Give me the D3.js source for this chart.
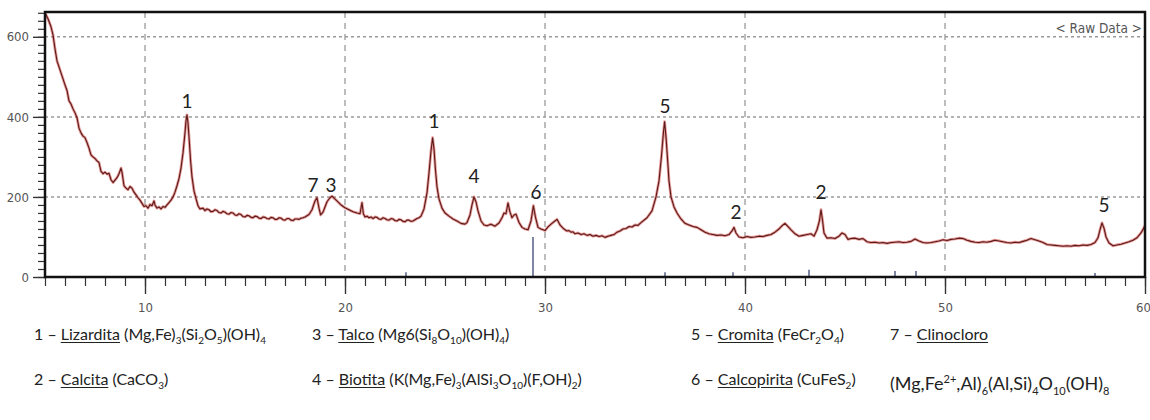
<!DOCTYPE html>
<html>
<head>
<meta charset="utf-8">
<script src="https://cdn.jsdelivr.net/npm/d3@7"></script>
<style>
  body { margin: 0; background: #fff; }
  #wrap { position: relative; width: 1150px; height: 420px; overflow: hidden; }
  .leg { position: absolute; font-family: Lato, 'Open Sans', sans-serif; font-size: 16px; color: #222; white-space: nowrap; line-height: 20px; }
  .leg sub, .leg sup { font-size: 10px; }
  .leg u { text-underline-offset: 2px; }
  .leg.big { font-size: 18px; }
  .leg.big sub, .leg.big sup { font-size: 11px; }
</style>
</head>
<body>
<div id="wrap"><svg id="svg" width="1150" height="420"></svg></div>
<script>
// scan: [2θ, counts]
const scan = [
  [5.0,660],[5.15,645],[5.3,625],[5.4,605],[5.5,570],[5.6,540],[5.7,525],[5.8,510],[5.9,495],[6.0,480],
  [6.1,466],[6.2,440],[6.3,432],[6.4,420],[6.5,410],[6.6,398],[6.7,372],[6.8,360],[6.9,352],[7.0,348],
  [7.1,336],[7.2,322],[7.3,305],[7.4,300],[7.5,296],[7.6,290],[7.7,286],[7.8,264],[7.9,258],[8.0,262],
  [8.1,257],[8.2,259],[8.3,243],[8.4,236],[8.5,242],[8.6,248],[8.7,258],[8.8,272],[8.85,262],[8.95,228],
  [9.05,222],[9.15,218],[9.25,226],[9.35,222],[9.45,212],[9.55,205],[9.65,198],[9.75,192],[9.85,184],[9.95,176],
  [10.05,178],[10.15,172],[10.25,181],[10.35,178],[10.45,190],[10.5,180],[10.6,172],[10.7,175],[10.8,170],[10.9,176],
  [11.0,174],[11.1,180],[11.2,186],[11.3,192],[11.4,200],[11.5,212],[11.6,228],[11.7,246],[11.8,272],[11.9,310],
  [12.0,360],[12.05,390],[12.1,405],[12.15,385],[12.2,350],[12.28,290],[12.35,250],[12.45,215],[12.55,196],[12.65,178],
  [12.75,170],[12.9,172],[13.0,166],[13.1,170],[13.2,168],[13.3,163],[13.4,164],[13.5,168],[13.6,166],[13.7,161],
  [13.8,160],[13.9,164],[14.0,162],[14.1,158],[14.2,157],[14.3,161],[14.4,160],[14.5,155],[14.6,154],[14.7,158],
  [14.8,156],[14.9,151],[15.0,150],[15.1,154],[15.2,153],[15.3,149],[15.4,148],[15.5,152],[15.6,151],[15.7,147],
  [15.8,146],[15.9,150],[16.0,149],[16.1,146],[16.2,145],[16.3,149],[16.4,148],[16.5,144],[16.6,144],[16.7,148],
  [16.8,147],[16.9,143],[17.0,142],[17.1,146],[17.2,146],[17.3,142],[17.4,141],[17.5,145],[17.6,145],[17.7,144],
  [17.8,147],[17.9,148],[18.0,150],[18.1,153],[18.2,156],[18.35,168],
  [18.5,190],[18.6,198],[18.7,172],[18.78,155],[18.9,162],[19.0,175],[19.1,188],[19.25,198],[19.35,202],[19.45,197],
  [19.6,190],[19.8,180],[20.0,173],[20.2,168],[20.4,163],[20.6,160],[20.75,158],[20.85,186],[20.92,158],[21.0,150],
  [21.1,152],[21.2,148],[21.3,150],[21.4,146],[21.5,150],[21.6,149],[21.7,145],[21.8,144],[21.9,148],[22.0,146],
  [22.1,143],[22.2,142],[22.3,146],[22.4,145],[22.5,141],[22.6,140],[22.7,144],[22.8,143],[22.9,139],[23.0,138],
  [23.1,142],[23.2,142],[23.3,139],[23.4,140],[23.5,143],[23.6,146],[23.7,148],[23.8,152],[23.95,170],[24.1,210],
  [24.2,260],[24.3,315],[24.38,348],[24.45,320],
  [24.52,270],[24.6,225],[24.7,195],[24.85,172],[25.0,160],[25.2,152],[25.4,145],[25.6,140],[25.8,134],[26.0,132],
  [26.1,136],[26.25,155],[26.35,180],[26.45,200],[26.55,188],[26.65,165],[26.8,140],[26.95,130],[27.1,128],[27.3,132],
  [27.5,127],[27.7,135],[27.85,148],[27.95,160],[28.05,158],[28.15,185],[28.25,162],[28.35,148],[28.45,155],[28.55,157],
  [28.7,136],[28.85,124],[29.0,120],[29.15,118],[29.3,140],[29.42,178],[29.52,150],[29.65,124],[29.8,120],[30.0,116],
  [30.15,125],[30.3,132],[30.45,138],[30.6,144],[30.75,130],[30.9,122],[31.0,118],[31.1,115],[31.2,116],[31.3,112],
  [31.4,113],[31.5,108],[31.65,110],[31.8,106],[31.95,108],[32.1,104],[32.25,106],[32.4,102],[32.55,104],[32.7,101],
  [32.85,103],[33.0,99],[33.15,102],[33.3,104],[33.45,106],[33.6,112],[33.75,115],[33.9,120],[34.05,121],[34.2,126],
  [34.35,125],[34.5,130],[34.65,129],[34.8,136],
  [35.1,148],[35.35,165],[35.55,200],[35.7,240],[35.82,300],[35.92,360],[35.98,388],[36.05,350],[36.12,300],[36.2,240],
  [36.3,200],[36.45,175],[36.6,160],[36.8,145],[37.0,134],[37.2,130],[37.4,126],[37.6,124],[37.8,118],[38.0,112],
  [38.2,108],[38.4,106],[38.6,104],[38.8,105],[39.0,103],[39.2,106],[39.35,115],[39.45,124],[39.55,110],[39.7,100],
  [39.9,98],[40.1,101],[40.3,99],[40.5,100],[40.7,102],[40.9,101],[41.1,104],[41.3,106],[41.5,112],[41.7,120],
  [41.85,128],[42.0,134],[42.15,126],[42.3,118],[42.5,108],[42.7,102],[42.9,104],[43.1,106],[43.3,108],[43.45,102],
  [43.6,118],[43.72,140],[43.8,168],[43.88,140],[43.95,110],[44.1,97],[44.3,98],[44.5,96],[44.7,102],[44.85,110],
  [45.0,106],[45.15,94],[45.3,96],[45.5,97],[45.7,94],[45.9,96],[46.1,88],[46.3,86],[46.5,87],[46.7,85],
  [46.9,86],[47.1,84],[47.3,86],[47.5,87],[47.7,88],[47.9,86],[48.1,87],[48.3,89],[48.5,95],[48.7,90],
  [48.9,86],[49.1,85],[49.3,86],[49.5,88],[49.7,90],[49.9,93],[50.1,91],[50.3,94],[50.5,95],[50.7,97],
  [50.9,96],[51.1,92],[51.3,89],[51.5,87],[51.7,86],[51.9,88],[52.1,87],[52.3,89],[52.5,92],[52.7,90],
  [52.9,88],[53.1,86],[53.3,85],[53.5,87],[53.7,86],[53.9,89],[54.1,92],[54.3,96],[54.5,93],[54.7,90],
  [54.9,86],[55.1,81],[55.3,80],[55.5,79],[55.7,78],[55.9,77],[56.1,78],[56.3,77],[56.5,79],[56.7,78],
  [56.9,80],[57.1,79],[57.3,81],[57.5,86],[57.65,98],[57.75,118],[57.85,135],[57.95,122],[58.05,100],[58.2,85],
  [58.4,78],[58.6,80],[58.8,82],[59.0,85],[59.2,88],[59.4,92],[59.6,98],[59.8,110],[60.0,128]
];

// reference sticks [2θ, height]
const sticks = [[23.05,12],[29.4,100],[36.0,12],[39.4,12],[43.2,18],[47.5,15],[48.55,15],[57.5,10]];

// peak labels [2θ, counts at label baseline, text]
const peakLabels = [
  [12.1,422,'1'],[18.4,212,'7'],[19.3,212,'3'],[24.45,372,'1'],[26.45,235,'4'],
  [29.55,195,'6'],[36.0,410,'5'],[39.55,145,'2'],[43.8,195,'2'],[57.95,162,'5']
];

const yTicks = [0, 200, 400, 600];
const xTicks = [10, 20, 30, 40, 50, 60];

const legend = [
  {col: 0, row: 0, num: '1', name: 'Lizardita', formula: '(Mg,Fe)<sub>3</sub>(Si<sub>2</sub>O<sub>5</sub>)(OH)<sub>4</sub>'},
  {col: 0, row: 1, num: '2', name: 'Calcita', formula: '(CaCO<sub>3</sub>)'},
  {col: 1, row: 0, num: '3', name: 'Talco', formula: '(Mg6(Si<sub>8</sub>O<sub>10</sub>)(OH)<sub>4</sub>)'},
  {col: 1, row: 1, num: '4', name: 'Biotita', formula: '(K(Mg,Fe)<sub>3</sub>(AlSi<sub>3</sub>O<sub>10</sub>)(F,OH)<sub>2</sub>)'},
  {col: 2, row: 0, num: '5', name: 'Cromita', formula: '(FeCr<sub>2</sub>O<sub>4</sub>)'},
  {col: 2, row: 1, num: '6', name: 'Calcopirita', formula: '(CuFeS<sub>2</sub>)'},
  {col: 3, row: 0, num: '7', name: 'Clinocloro', formula: ''},
  {col: 3, row: 1, num: '', name: '', formula: '(Mg,Fe<sup>2+</sup>,Al)<sub>6</sub>(Al,Si)<sub>4</sub>O<sub>10</sub>(OH)<sub>8</sub>'}
];

const svg = d3.select('#svg');
const pl = 45, pr = 1145, pt = 12, pb = 277;

const x = d3.scaleLinear().domain([5, 60]).range([pl, pr]);
const y = d3.scaleLinear().domain([0, 662]).range([pb, pt]);

// grid
svg.append('g').selectAll('line').data(yTicks.filter(d => d > 0)).join('line')
  .attr('x1', pl).attr('x2', pr).attr('y1', d => y(d)).attr('y2', d => y(d))
  .attr('stroke', '#9a9a9a').attr('stroke-width', 1.5).attr('stroke-dasharray', '3,3');
svg.append('g').selectAll('line').data(xTicks.filter(d => d < 60)).join('line')
  .attr('x1', d => x(d)).attr('x2', d => x(d)).attr('y1', pt).attr('y2', pb)
  .attr('stroke', '#9a9a9a').attr('stroke-width', 1.3).attr('stroke-dasharray', '6,5');

// y axis ticks (minor every 20)
svg.append('g').attr('transform', `translate(${pl},0)`)
  .call(d3.axisLeft(y).tickValues(d3.range(0, 662, 20)).tickSize(7).tickFormat(''))
  .call(g => g.select('.domain').remove())
  .call(g => g.selectAll('line').attr('stroke', '#333').attr('stroke-width', 1.2));
svg.append('g').attr('transform', `translate(${pl},0)`)
  .call(d3.axisLeft(y).tickValues(yTicks).tickSize(12).tickPadding(4))
  .call(g => g.select('.domain').remove())
  .call(g => g.selectAll('line').attr('stroke', '#333').attr('stroke-width', 1.4))
  .call(g => g.selectAll('text').attr('font-family', "'Liberation Sans Narrow', 'DejaVu Sans Condensed', sans-serif")
    .attr('font-size', 13).attr('fill', '#555'));

// x axis ticks (minor every 1)
svg.append('g').attr('transform', `translate(0,${pb})`)
  .call(d3.axisBottom(x).tickValues(d3.range(5, 61, 1)).tickSize(9).tickFormat(''))
  .call(g => g.select('.domain').remove())
  .call(g => g.selectAll('line').attr('stroke', '#333').attr('stroke-width', 1.2));
svg.append('g').attr('transform', `translate(0,${pb})`)
  .call(d3.axisBottom(x).tickValues(xTicks).tickSize(17).tickPadding(9))
  .call(g => g.select('.domain').remove())
  .call(g => g.selectAll('line').attr('stroke', '#333').attr('stroke-width', 1.4))
  .call(g => g.selectAll('text').attr('font-family', "'Liberation Sans Narrow', 'DejaVu Sans Condensed', sans-serif")
    .attr('font-size', 13).attr('fill', '#555')
    .attr('dx', d => d === 60 ? -2 : 0));

// reference sticks
svg.append('g').selectAll('line').data(sticks).join('line')
  .attr('x1', d => x(d[0])).attr('x2', d => x(d[0])).attr('y1', y(0)).attr('y2', d => y(d[1]))
  .attr('stroke', '#3b4675').attr('stroke-width', 1.3);

// pattern
const line = d3.line().x(d => x(d[0])).y(d => y(d[1]));
svg.append('path').attr('d', line(scan)).attr('fill', 'none')
  .attr('stroke', '#d0453f').attr('stroke-width', 2.8).attr('stroke-opacity', 0.55).attr('stroke-linejoin', 'round');
svg.append('path').attr('d', line(scan)).attr('fill', 'none')
  .attr('stroke', '#5a1a1a').attr('stroke-width', 1.1).attr('stroke-linejoin', 'round');

// frame
svg.append('rect').attr('x', pl).attr('y', pt).attr('width', pr - pl).attr('height', pb - pt)
  .attr('fill', 'none').attr('stroke', '#111').attr('stroke-width', 2.5);

svg.append('text').attr('x', pr - 3).attr('y', 33).attr('text-anchor', 'end')
  .attr('font-family', "'DejaVu Sans Condensed', sans-serif").attr('font-size', 13.5).attr('fill', '#555')
  .text('< Raw Data >');

// peak labels
svg.append('g').selectAll('text').data(peakLabels).join('text')
  .attr('x', d => x(d[0])).attr('y', d => y(d[1])).attr('text-anchor', 'middle')
  .attr('font-family', 'Lato, sans-serif').attr('font-size', 19).attr('fill', '#222')
  .text(d => d[2]);

// legend (html so sub/sup/underline render cleanly)
const colX = [34, 312, 691, 890], rowY = [324, 369];
d3.select('#wrap').selectAll('div.leg').data(legend).join('div')
  .attr('class', d => d.num ? 'leg' : 'leg big')
  .style('left', d => colX[d.col] + 'px').style('top', d => rowY[d.row] + 'px')
  .html(d => (d.num ? d.num + ' – <u>' + d.name + '</u> ' : '') + d.formula);
</script>
</body>
</html>
